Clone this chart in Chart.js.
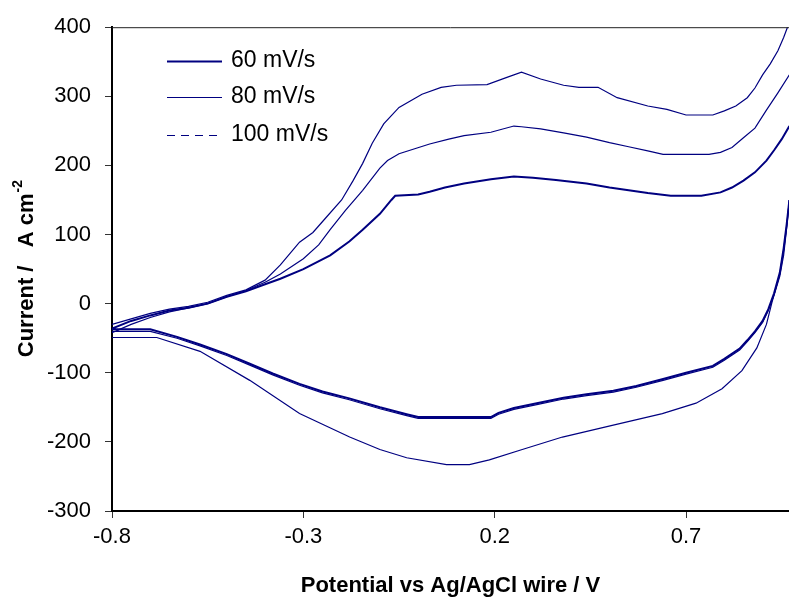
<!DOCTYPE html>
<html>
<head>
<meta charset="utf-8">
<script src="https://cdn.jsdelivr.net/npm/chart.js@4.4.1/dist/chart.umd.min.js"></script>
<style>
  html, body { margin: 0; padding: 0; background: #fff; }
</style>
</head>
<body>
<canvas id="cv" width="789" height="603"></canvas>
<script>
// Cyclic voltammograms at three scan rates

const scanRates = ['60 mV/s', '80 mV/s', '100 mV/s'];
const xTicks = [-0.8, -0.3, 0.2, 0.7];
const yTicks = [-300, -200, -100, 0, 100, 200, 300, 400];

// forward (anodic) sweeps, left to right
const pot60F = [-0.80, -0.75, -0.70, -0.65, -0.60, -0.55, -0.50, -0.45, -0.40, -0.36, -0.30, -0.23, -0.18, -0.145, -0.10, -0.07, -0.06, 0.00, 0.03, 0.07, 0.12, 0.19, 0.25, 0.30, 0.36, 0.44, 0.50, 0.55, 0.60, 0.66, 0.74, 0.79, 0.82, 0.85, 0.88, 0.91, 0.93, 0.95, 0.97];
const cur60F = [-36, -25, -17, -10, -6, 0, 10, 18, 28, 36, 50, 70, 90, 107, 130, 150, 156, 158, 162, 168, 174, 180, 184, 182, 179, 174, 168, 164, 160, 156, 156, 161, 168, 178, 190, 207, 222, 238, 257];

const pot80F = [-0.80, -0.75, -0.70, -0.65, -0.60, -0.55, -0.50, -0.45, -0.40, -0.36, -0.30, -0.26, -0.23, -0.19, -0.145, -0.10, -0.08, -0.05, 0.03, 0.08, 0.12, 0.19, 0.25, 0.27, 0.32, 0.38, 0.44, 0.50, 0.55, 0.60, 0.64, 0.70, 0.76, 0.79, 0.82, 0.85, 0.88, 0.91, 0.94, 0.97];
const cur80F = [-42, -30, -20, -12, -6, 0, 10, 19, 31, 43, 65, 85, 107, 135, 164, 196, 207, 217, 231, 238, 243, 248, 257, 256, 253, 247, 241, 233, 227, 221, 216, 216, 216, 219, 226, 240, 254, 280, 305, 331];

const pot100F = [-0.80, -0.75, -0.70, -0.65, -0.60, -0.55, -0.50, -0.45, -0.40, -0.36, -0.31, -0.275, -0.24, -0.20, -0.17, -0.145, -0.12, -0.09, -0.05, 0.01, 0.06, 0.10, 0.18, 0.23, 0.27, 0.32, 0.38, 0.42, 0.47, 0.52, 0.60, 0.65, 0.70, 0.77, 0.80, 0.83, 0.86, 0.88, 0.90, 0.92, 0.94, 0.955, 0.965, 0.975];
const cur100F = [-30, -22, -14, -8, -4, 2, 12, 20, 34, 56, 89, 103, 125, 150, 178, 203, 232, 260, 284, 303, 313, 316, 317, 327, 335, 325, 316, 313, 313, 298, 286, 281, 273, 273, 279, 286, 298, 312, 331, 347, 366, 385, 400, 412];

// reverse (cathodic) sweeps, right to left
const pot60R = [0.97, 0.963, 0.955, 0.945, 0.93, 0.915, 0.90, 0.88, 0.86, 0.84, 0.80, 0.77, 0.70, 0.64, 0.57, 0.51, 0.44, 0.38, 0.31, 0.25, 0.21, 0.19, 0.10, 0.00, -0.03, -0.10, -0.18, -0.25, -0.31, -0.38, -0.44, -0.50, -0.57, -0.63, -0.70, -0.80];
const cur60R = [150, 115, 80, 45, 15, -8, -25, -40, -53, -65, -80, -90, -100, -109, -119, -126, -131, -136, -144, -151, -158, -164, -164, -164, -160, -150, -137, -127, -116, -101, -87, -73, -59, -48, -37, -37];

const pot80R = [0.97, 0.963, 0.955, 0.945, 0.93, 0.915, 0.90, 0.88, 0.86, 0.84, 0.80, 0.77, 0.70, 0.64, 0.57, 0.51, 0.44, 0.38, 0.31, 0.25, 0.21, 0.19, 0.10, 0.00, -0.03, -0.10, -0.18, -0.25, -0.31, -0.38, -0.44, -0.50, -0.57, -0.63, -0.70, -0.80];
const cur80R = [150, 113, 78, 43, 13, -10, -27, -42, -55, -67, -82, -92, -102, -111, -121, -128, -133, -138, -146, -153, -160, -166, -166, -166, -162, -152, -139, -129, -118, -103, -89, -75, -61, -50, -40, -40];

const pot100R = [0.97, 0.963, 0.955, 0.945, 0.925, 0.91, 0.885, 0.846, 0.794, 0.726, 0.638, 0.507, 0.377, 0.272, 0.186, 0.134, 0.074, -0.03, -0.10, -0.179, -0.31, -0.44, -0.57, -0.683, -0.80];
const cur100R = [150, 110, 70, 40, 3, -30, -64, -97, -123, -144, -159, -176, -193, -211, -226, -233, -233, -223, -211, -193, -159, -111, -69, -49, -49];

const NAVY = '#000080';
const FONT = "'Liberation Sans', Arial, sans-serif";

Chart.defaults.font.family = FONT;
Chart.defaults.color = '#000';

// join both sweeps, with a gap at the turning point (off the plot)
function loop(potF, curF, potR, curR) {
  const fwd = potF.map((x, i) => ({ x, y: curF[i] }));
  const rev = potR.map((x, i) => ({ x, y: curR[i] }));
  return [...fwd, { x: potF[potF.length - 1], y: null }, ...rev];
}

const styles = [
  { width: 2, dash: [] },
  { width: 1.2, dash: [] },
  { width: 1.2, dash: [8, 6] }   // legend only; data drawn solid like the original
];

const datasets = [
  loop(pot60F, cur60F, pot60R, cur60R),
  loop(pot80F, cur80F, pot80R, cur80R),
  loop(pot100F, cur100F, pot100R, cur100R)
].map((data, i) => ({
  label: scanRates[i],
  data,
  showLine: true,
  borderColor: NAVY,
  borderWidth: styles[i].width,
  pointRadius: 0,
  tension: 0,
  spanGaps: false
}));

const decorations = {
  id: 'decorations',
  afterDraw(chart) {
    const { ctx, chartArea: a } = chart;
    ctx.save();

    // top edge of plot frame
    ctx.strokeStyle = '#222';
    ctx.lineWidth = 1;
    ctx.beginPath();
    ctx.moveTo(a.left, a.top + 0.5);
    ctx.lineTo(a.right, a.top + 0.5);
    ctx.stroke();

    // y title with superscript
    ctx.translate(27, (a.top + a.bottom) / 2);
    ctx.rotate(-Math.PI / 2);
    const main = 'Current /   A cm';
    const sup = '-2';
    ctx.font = 'bold 22px ' + FONT;
    const mw = ctx.measureText(main).width;
    ctx.font = 'bold 14px ' + FONT;
    const sw = ctx.measureText(sup).width;
    const x0 = -(mw + sw) / 2;
    ctx.fillStyle = '#000';
    ctx.textBaseline = 'middle';
    ctx.textAlign = 'left';
    ctx.font = 'bold 22px ' + FONT;
    ctx.fillText(main, x0, 0);
    ctx.font = 'bold 14px ' + FONT;
    ctx.fillText(sup, x0 + mw + 1, -9);
    ctx.setTransform(1, 0, 0, 1, 0, 0);

    // legend
    const rows = [61, 97, 135];
    ctx.font = '23px ' + FONT;
    ctx.textBaseline = 'middle';
    chart.data.datasets.forEach((ds, i) => {
      ctx.strokeStyle = NAVY;
      ctx.lineWidth = styles[i].width;
      ctx.setLineDash(styles[i].dash);
      ctx.beginPath();
      ctx.moveTo(167, rows[i] + 0.5);
      ctx.lineTo(222, rows[i] + 0.5);
      ctx.stroke();
      ctx.setLineDash([]);
      ctx.fillStyle = '#000';
      ctx.fillText(ds.label, 231, rows[i]);
    });
    ctx.restore();
  }
};

new Chart(document.getElementById('cv'), {
  type: 'scatter',
  data: { datasets },
  options: {
    responsive: false,
    animation: false,
    layout: { padding: { top: 22, left: 0, right: 0, bottom: 0 } },
    plugins: { legend: { display: false }, tooltip: { enabled: false } },
    scales: {
      x: {
        type: 'linear',
        min: -0.8,
        max: 0.969,
        afterBuildTicks: (s) => { s.ticks = xTicks.map(v => ({ value: v })); },
        afterFit: (s) => { s.height = 92; },
        grid: { drawOnChartArea: false, drawTicks: true, tickLength: 7, color: '#333' },
        border: { color: '#000', width: 2 },
        ticks: { padding: 6, font: { size: 22 }, maxRotation: 0, callback: (v) => v.toFixed(1) },
        title: {
          display: true,
          text: 'Potential vs Ag/AgCl wire / V',
          font: { size: 22, weight: 'bold' },
          padding: { top: 0, bottom: 4 }
        }
      },
      y: {
        min: -300,
        max: 400,
        afterBuildTicks: (s) => { s.ticks = yTicks.map(v => ({ value: v })); },
        afterFit: (s) => { s.width = 112; },
        grid: { drawOnChartArea: false, drawTicks: true, tickLength: 7, color: '#333' },
        border: { color: '#000', width: 2 },
        ticks: { padding: 14, font: { size: 22 } }
      }
    }
  },
  plugins: [decorations]
});
</script>
</body>
</html>
